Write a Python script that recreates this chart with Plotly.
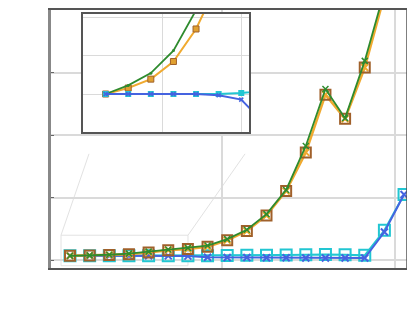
import plotly.graph_objects as go

x = list(range(1, 19))
orange = [0.068, 0.0728, 0.0799, 0.094, 0.120, 0.158, 0.178, 0.211, 0.317, 0.465,
          0.714, 1.106, 1.722, 2.646, 2.259, 3.079, 4.23, 5.8]
green = [0.068, 0.0749, 0.0847, 0.1027, 0.135, 0.168, 0.195, 0.232, 0.335, 0.485,
         0.735, 1.122, 1.825, 2.735, 2.27, 3.186, 4.30, 5.9]
blue = [0.068, 0.068, 0.068, 0.068, 0.068, 0.067, 0.0635, 0.045, 0.042, 0.040,
        0.038, 0.036, 0.034, 0.033, 0.032, 0.032, 0.449, 1.048]
cyan = [0.068, 0.068, 0.068, 0.068, 0.068, 0.068, 0.0688, 0.070, 0.073, 0.075,
        0.075, 0.079, 0.084, 0.090, 0.084, 0.075, 0.476, 1.048]

C_OR = "#f0aa30"
C_BR = "#a0602a"
C_GR = "#2e8b2e"
C_BL = "#4563e0"
C_CY = "#22c6d2"

fig = go.Figure()

# main plot
fig.add_trace(go.Scatter(x=x, y=cyan, mode="lines+markers", line=dict(color=C_CY, width=2),
                         marker=dict(symbol="square-open", size=11, color=C_CY, line=dict(width=2)),
                         xaxis="x", yaxis="y", showlegend=False))
fig.add_trace(go.Scatter(x=x, y=blue, mode="lines+markers", line=dict(color=C_BL, width=2),
                         marker=dict(symbol="x-thin-open", size=7, color=C_BL, line=dict(width=2, color=C_BL)),
                         xaxis="x", yaxis="y", showlegend=False))
fig.add_trace(go.Scatter(x=x, y=orange, mode="lines+markers", line=dict(color=C_OR, width=2.5),
                         marker=dict(symbol="x-thin-open", size=7, color=C_OR, line=dict(width=2, color=C_OR)),
                         xaxis="x", yaxis="y", showlegend=False))
fig.add_trace(go.Scatter(x=x, y=orange, mode="markers",
                         marker=dict(symbol="square-open", size=10, color=C_BR, line=dict(width=2)),
                         xaxis="x", yaxis="y", showlegend=False))
fig.add_trace(go.Scatter(x=x, y=green, mode="lines+markers", line=dict(color=C_GR, width=1.8),
                         marker=dict(symbol="x-thin-open", size=6, color=C_GR, line=dict(width=1.5, color=C_GR)),
                         xaxis="x", yaxis="y", showlegend=False))

# inset
fig.add_trace(go.Scatter(x=x, y=orange, mode="lines+markers", line=dict(color=C_OR, width=2),
                         marker=dict(symbol="square", size=6, color="#e0a030", line=dict(width=1, color=C_BR)),
                         xaxis="x2", yaxis="y2", showlegend=False))
fig.add_trace(go.Scatter(x=x, y=green, mode="lines+markers", line=dict(color=C_GR, width=1.8),
                         marker=dict(symbol="circle", size=3, color=C_GR),
                         xaxis="x2", yaxis="y2", showlegend=False))
fig.add_trace(go.Scatter(x=x, y=cyan, mode="lines+markers", line=dict(color=C_CY, width=2),
                         marker=dict(symbol="square", size=6, color=C_CY),
                         xaxis="x2", yaxis="y2", showlegend=False))
fig.add_trace(go.Scatter(x=x, y=blue, mode="lines+markers", line=dict(color=C_BL, width=2),
                         marker=dict(symbol="x-thin-open", size=4, color=C_BL, line=dict(width=1.5, color=C_BL)),
                         xaxis="x2", yaxis="y2", showlegend=False))

grid = "#dadada"
fig.update_layout(
    width=407, height=309,
    margin=dict(l=43, r=8, t=0, b=49),
    paper_bgcolor="white", plot_bgcolor="white",
    xaxis=dict(domain=[0, 1], range=[0.033, 18.15], tickvals=[8.735, 17.54], showticklabels=False,
               showgrid=True, gridcolor=grid, gridwidth=1.5, zeroline=False, ticks="",
               showline=True, linecolor="#555", linewidth=2, mirror=True),
    yaxis=dict(domain=[0, 1], range=[-0.127, 4.0], tickvals=[0, 1, 2, 3, 4], showticklabels=False,
               showgrid=True, gridcolor=grid, gridwidth=1.5, zeroline=False,
               ticks="inside", ticklen=3, tickcolor="#666",
               showline=True, linecolor="#888", linewidth=3, mirror=False),
    xaxis2=dict(domain=[0.0899, 0.556], anchor="y2", range=[0.0, 7.34], tickvals=[3.5, 7.0],
                showticklabels=False, showgrid=True, gridcolor=grid, gridwidth=1.2, zeroline=False,
                showline=True, linecolor="#555", linewidth=1.5, mirror=True),
    yaxis2=dict(domain=[0.527, 0.9846], anchor="x2", range=[0.0376, 0.132],
                tickvals=[0.068, 0.0987, 0.1294], showticklabels=False, showgrid=True,
                gridcolor=grid, gridwidth=1.2, zeroline=False,
                showline=True, linecolor="#555", linewidth=1.5, mirror=True),
    shapes=[
        dict(type="line", xref="paper", yref="paper", x0=1, x1=1, y0=0, y1=1,
             line=dict(color="#555", width=1.5)),
        dict(type="rect", xref="paper", yref="paper", x0=0.0281, x1=0.3848, y0=0.0088, y1=0.127,
             line=dict(color="#e2e2e2", width=1), layer="below"),
        dict(type="line", xref="paper", yref="paper", x0=0.0281, y0=0.127, x1=0.1067, y1=0.4423,
             line=dict(color="#e2e2e2", width=1), layer="below"),
        dict(type="line", xref="paper", yref="paper", x0=0.3848, y0=0.127, x1=0.545, y1=0.4423,
             line=dict(color="#e2e2e2", width=1), layer="below"),
    ],
)

fig.write_html("out.html")
